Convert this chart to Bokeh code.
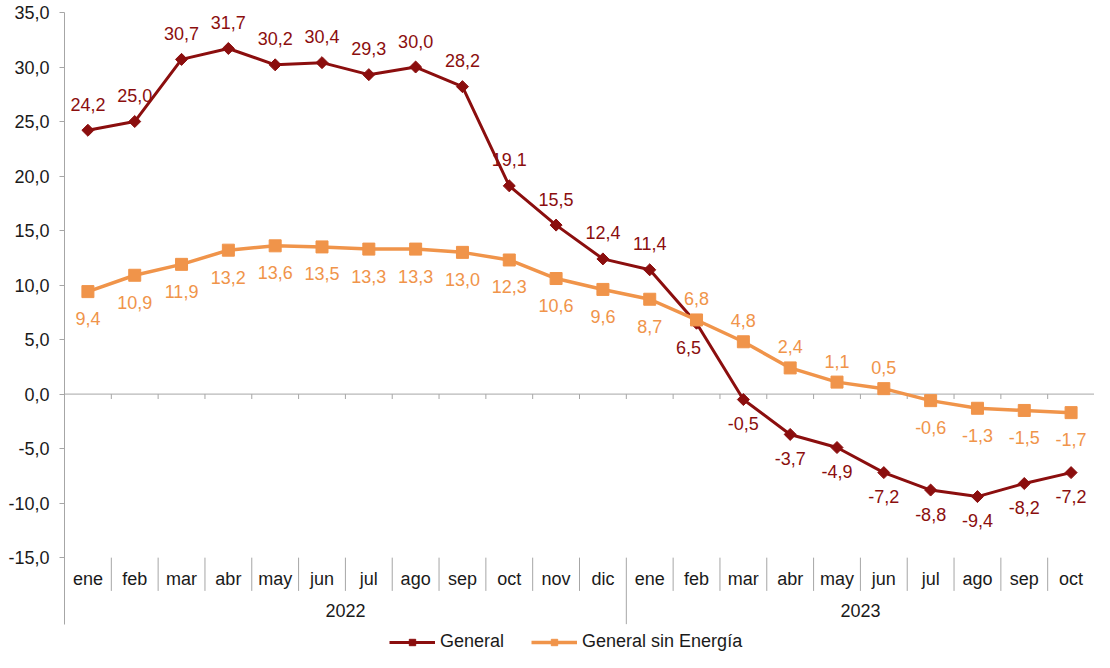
from bokeh.plotting import figure
from bokeh.models import Range1d, FixedTicker, Legend, LegendItem, ColumnDataSource
from bokeh.core.properties import value
from bokeh.embed import file_html
from bokeh.resources import INLINE

months = ["ene", "feb", "mar", "abr", "may", "jun", "jul", "ago", "sep", "oct", "nov", "dic",
          "ene", "feb", "mar", "abr", "may", "jun", "jul", "ago", "sep", "oct"]
years = ["2022", "2023"]
months_per_year = [12, 10]
general = [24.2, 25.0, 30.7, 31.7, 30.2, 30.4, 29.3, 30.0, 28.2, 19.1, 15.5, 12.4,
           11.4, 6.5, -0.5, -3.7, -4.9, -7.2, -8.8, -9.4, -8.2, -7.2]
sin_energia = [9.4, 10.9, 11.9, 13.2, 13.6, 13.5, 13.3, 13.3, 13.0, 12.3, 10.6, 9.6,
               8.7, 6.8, 4.8, 2.4, 1.1, 0.5, -0.6, -1.3, -1.5, -1.7]
y_ticks = [-15, -10, -5, 0, 5, 10, 15, 20, 25, 30, 35]

# label placement (style): a = above, b = below
general_pos = ["a"] * 13 + ["b"] * 9
sin_pos = ["b"] * 13 + ["a"] * 5 + ["b"] * 4

RED = "#8B0E0E"
ORANGE = "#F0944A"
GREY = "#A6A6A6"
TXT = "#1A1A1A"
FONT = "Liberation Sans"
FS = "18px"

def fmt(v):
    return f"{v:.1f}".replace(".", ",")

n = len(months)
xs = [i + 0.5 for i in range(n)]
ymin_cat = -21.1
ymin_frame = -23.7

p = figure(width=1094, height=652, output_backend="svg", toolbar_location=None,
           x_range=Range1d(0, n), y_range=Range1d(ymin_frame, 35),
           min_border_left=64, min_border_right=0, min_border_top=12, min_border_bottom=0)
p.xaxis.visible = False
p.grid.visible = False
p.outline_line_color = None
p.background_fill_color = "white"

ya = p.yaxis[0]
ya.ticker = FixedTicker(ticks=y_ticks)
ya.bounds = (ymin_cat, 35)
ya.major_label_overrides = {t: fmt(t) for t in y_ticks}
ya.axis_line_color = GREY
ya.major_tick_line_color = GREY
ya.major_tick_out = 5
ya.major_tick_in = 0
ya.minor_tick_line_color = None
ya.major_label_text_font = FONT
ya.major_label_text_font_size = FS
ya.major_label_text_color = TXT
ya.major_label_standoff = 10

# zero line with ticks
p.segment(x0=[0], y0=[0], x1=[n], y1=[0], line_color=GREY, line_width=1)
p.segment(x0=list(range(1, n + 1)), y0=[0] * n, x1=list(range(1, n + 1)), y1=[-0.45] * n,
          line_color=GREY, line_width=1)

# category table below
year_bounds = []
acc = 0
for c in months_per_year:
    year_bounds.append((acc, acc + c))
    acc += c
sep_x = [i for i in range(1, n) if i not in [b[1] for b in year_bounds]]
p.segment(x0=sep_x, y0=[-15] * len(sep_x), x1=sep_x, y1=[-18.05] * len(sep_x),
          line_color=GREY, line_width=1)
ysep = [b[1] for b in year_bounds[:-1]]
p.segment(x0=ysep, y0=[-15] * len(ysep), x1=ysep, y1=[ymin_cat] * len(ysep),
          line_color=GREY, line_width=1)
p.text(x=xs, y=[-16.95] * n, text=months, text_align="center", text_baseline="middle",
       text_font=value(FONT), text_font_size=FS, text_color=TXT)
p.text(x=[(a + b) / 2 for a, b in year_bounds], y=[-19.85] * len(years), text=years,
       text_align="center", text_baseline="middle",
       text_font=value(FONT), text_font_size=FS, text_color=TXT)

# series
src_g = ColumnDataSource(dict(x=xs, y=general,
                              lab=[fmt(v) for v in general],
                              dy=[-26 if s == "a" else 24 for s in general_pos],
                              dx=[-8 if (s == "b" and v > 0) else 0 for s, v in zip(general_pos, general)]))
src_s = ColumnDataSource(dict(x=xs, y=sin_energia,
                              lab=[fmt(v) for v in sin_energia],
                              dy=[-21 if s == "a" else 27 for s in sin_pos]))

lg = p.line("x", "y", source=src_g, line_color=RED, line_width=3)
mg = p.scatter("x", "y", source=src_g, marker="square", angle=0.785398, size=8.5,
               fill_color=RED, line_color=RED)
ls = p.line("x", "y", source=src_s, line_color=ORANGE, line_width=3.5)
ms = p.scatter("x", "y", source=src_s, marker="square", size=12,
               fill_color=ORANGE, line_color=ORANGE)

p.text("x", "y", text="lab", source=src_g, x_offset="dx", y_offset="dy",
       text_align="center", text_baseline="middle",
       text_font=value(FONT), text_font_size=FS, text_color=RED)
p.text("x", "y", text="lab", source=src_s, y_offset="dy",
       text_align="center", text_baseline="middle",
       text_font=value(FONT), text_font_size=FS, text_color=ORANGE)

legend = Legend(items=[LegendItem(label="General", renderers=[lg, mg]),
                       LegendItem(label="General sin Energía", renderers=[ls, ms])],
                orientation="horizontal", location=(325, 0),
                glyph_width=46, glyph_height=16, label_standoff=5, spacing=27,
                label_text_font=FONT, label_text_font_size=FS, label_text_color=TXT,
                border_line_color=None, background_fill_alpha=0,
                padding=4, margin=0)
p.add_layout(legend, "center")

open("out.html", "w").write(file_html(p, INLINE))
